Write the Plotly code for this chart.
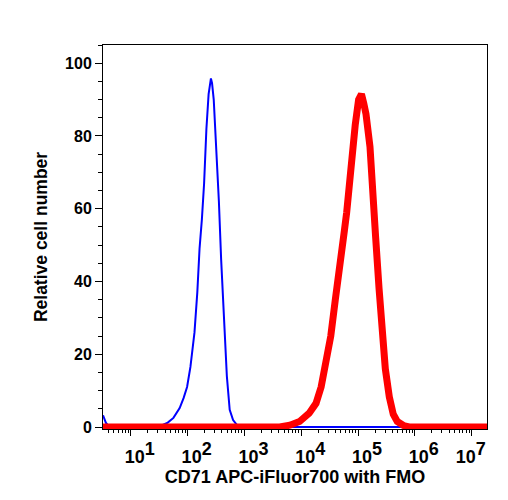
import plotly.graph_objects as go

# Fluorescence intensity (linear units, plotted on log axis) and relative counts
fmo_x = [3.24, 3.63, 4.17, 25.1, 35.5, 44.7, 56.2, 72.4, 85.1, 97.7, 112, 132, 148, 162,
         178, 195, 214, 234, 257, 269, 288, 316, 355, 389, 437, 490, 550, 631, 759, 891,
         1.86e7]
fmo_y = [3.2, 1.2, 0, 0, 0.5, 1.2, 2.5, 5.2, 8, 11, 16.5, 26, 37, 49,
         57, 67, 82, 91.5, 95.8, 94.5, 90, 78, 62, 46, 28, 14, 4.7, 1.9, 0.3, 0,
         0]

cd71_x = [3.24, 4169, 6310, 9333, 13800, 18200, 22400, 27500, 33100, 39800, 45700, 50100,
          57500, 63100, 72400, 81300, 89100, 102300, 114800, 125900, 138000, 162200,
          182000, 204200, 234400, 269200, 302000, 354800, 416900, 489800, 631000, 794300,
          1.86e7]
cd71_y = [0, 0, 0.5, 1.5, 3.8, 6.5, 11, 17.5, 25, 35, 41, 45,
          54, 59, 70, 76, 83, 90, 91.5, 89, 86, 77,
          67, 52, 38, 26, 16, 8.3, 3.5, 1.5, 0.4, 0,
          0]

x_tickvals = [1e1, 1e2, 1e3, 1e4, 1e5, 1e6, 1e7]
x_exponents = ["1", "2", "3", "4", "5", "6", "7"]
x_ticktext = ["10<sup><span style='font-size:18px'>" + e + "</span></sup>" for e in x_exponents]
x_ticktext[-1] = x_ticktext[-1] + "&nbsp;&nbsp;&nbsp;&nbsp;"
y_ticks = [0, 20, 40, 60, 80, 100]

FONT = "Liberation Sans"

fig = go.Figure()
fig.add_trace(go.Scatter(x=fmo_x, y=fmo_y, mode="lines",
                         line=dict(color="#0000ff", width=2), showlegend=False))
fig.add_trace(go.Scatter(x=cd71_x, y=cd71_y, mode="lines",
                         line=dict(color="#ff0000", width=7), showlegend=False))

fig.update_layout(
    width=508, height=500,
    margin=dict(l=103, r=21, t=45, b=71, autoexpand=False),
    paper_bgcolor="white", plot_bgcolor="white",
    font=dict(family=FONT, color="black", size=16, weight="bold"),
    xaxis=dict(
        type="log", range=[0.51, 7.27], automargin=False,
        showline=True, linecolor="black", linewidth=1, mirror=True,
        showgrid=False, zeroline=False,
        ticks="outside", ticklen=6, tickwidth=1, tickcolor="black",
        tickvals=x_tickvals, ticktext=x_ticktext,
        ticklabelshift=9, ticklabelstandoff=5,
        tickfont=dict(family=FONT, size=18, color="black", weight="bold"),
        minor=dict(ticks="outside", ticklen=3, tickcolor="black", dtick="D1", showgrid=False),
        title=dict(text="CD71 APC-iFluor700 with FMO", standoff=1,
                   font=dict(family=FONT, size=18, color="black", weight="bold")),
    ),
    yaxis=dict(
        range=[-0.55, 105], automargin=False,
        showline=True, linecolor="black", linewidth=1, mirror=True,
        showgrid=False, zeroline=False,
        ticks="outside", ticklen=7, tickwidth=1, tickcolor="black",
        tickvals=y_ticks,
        tickfont=dict(family=FONT, size=16, color="black", weight="bold"),
        minor=dict(ticks="outside", ticklen=4, tickcolor="black", dtick=5, showgrid=False),
        title=dict(text="Relative cell number", standoff=12,
                   font=dict(family=FONT, size=17.5, color="black", weight="bold")),
    ),
)

fig.write_html("out.html")
